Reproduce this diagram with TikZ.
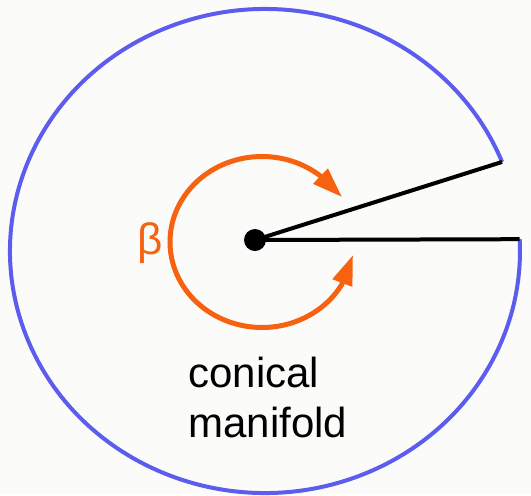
\documentclass[tikz,border=0pt]{standalone}
\usepackage{fontspec}
\setmainfont{Liberation Sans}
\usetikzlibrary{arrows.meta,calc}
\definecolor{rimblue}{RGB}{92,92,238}
\definecolor{betaorange}{RGB}{246,98,16}
\definecolor{paper}{RGB}{251,252,249}

\begin{document}
\begin{tikzpicture}[x=0.5pt,y=0.5pt,
    >={Triangle[length=15pt,width=10pt]},
    rim/.style={draw=rimblue,line width=2pt},
    cut/.style={line width=2pt},
    turn/.style={draw=betaorange,line width=2.5pt}]
    \fill[paper] (0,0) rectangle (531,-495);
    \useasboundingbox (0,0) rectangle (531,-495);

    % cut-open disc
    \coordinate (o) at (265,-251);
    \coordinate (rimA) at ($(o)+(21.6:255 and 242)$);
    \coordinate (rimB) at ($(o)+(2.8:255 and 242)$);
    \draw[rim] (rimA) arc[start angle=21.6,end angle=362.8,x radius=255,y radius=242];

    \node[circle,fill,inner sep=0pt,minimum size=11pt] (apex) at (255,-240) {};
    \draw[cut] (apex.center) -- (rimA);
    \draw[cut] (apex.center) -- (rimB);

    % angle beta
    \coordinate (c) at (262,-242);
    \coordinate (turnA) at ($(c)+(51:92 and 85.5)$);
    \coordinate (turnB) at ($(c)+(-30:92 and 85.5)$);
    \coordinate (tipA) at (342,-197);
    \coordinate (tipB) at (353,-255);
    \draw[turn,<->] (tipA) -- (turnA) arc[start angle=51,end angle=330,x radius=92,y radius=85.5] -- (tipB);
    \node[text=betaorange,font=\fontsize{22}{26}\selectfont] (beta) at (150,-243) {β};

    \node[anchor=base west,align=left,inner sep=0pt,font=\fontsize{21}{25}\selectfont] (label) at (188,-437) {conical\\manifold};
\end{tikzpicture}
\end{document}
